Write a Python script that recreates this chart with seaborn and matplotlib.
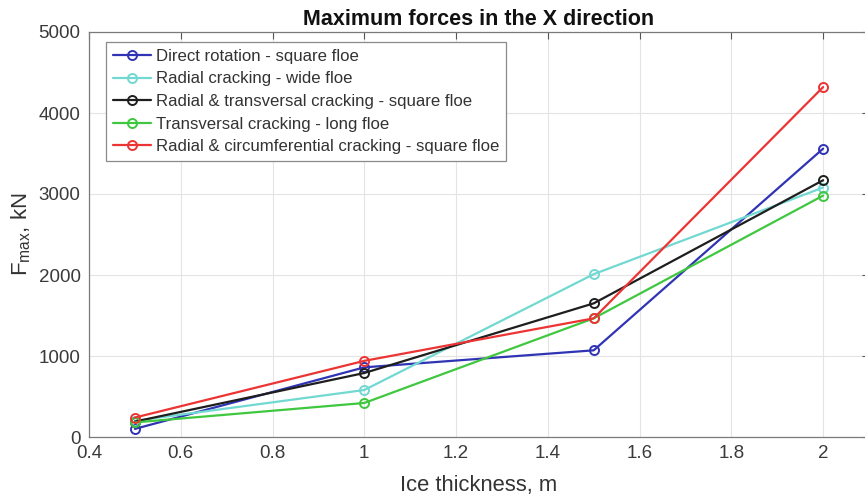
import numpy as np
import pandas as pd
import matplotlib
matplotlib.use("Agg")
import matplotlib.pyplot as plt
import seaborn as sns
from matplotlib.ticker import FuncFormatter

# Ice thickness (m) and maximum force in X (kN) for each fracture scenario
thickness = [0.5, 1.0, 1.5, 2.0]
direct_rotation_square = [100, 860, 1070, 3560]
radial_wide = [200, 580, 2010, 3080]
radial_transversal_square = [190, 790, 1650, 3170]
transversal_long = [180, 420, 1465, 2980]
radial_circumferential_square = [240, 940, 1465, 4320]

series_labels = [
    "Direct rotation - square floe",
    "Radial cracking - wide floe",
    "Radial & transversal cracking - square floe",
    "Transversal cracking - long floe",
    "Radial & circumferential cracking - square floe",
]
series_values = [
    direct_rotation_square,
    radial_wide,
    radial_transversal_square,
    transversal_long,
    radial_circumferential_square,
]
series_colors = ["#3034b4", "#72d8d2", "#1e1e1e", "#3fc83f", "#ec3434"]

x_ticks = [0.4, 0.6, 0.8, 1.0, 1.2, 1.4, 1.6, 1.8, 2.0]
y_ticks = [0, 1000, 2000, 3000, 4000, 5000]

sns.set_theme(style="whitegrid")
plt.rcParams["font.family"] = ["Liberation Sans", "DejaVu Sans"]
plt.rcParams["mathtext.fontset"] = "custom"
plt.rcParams["mathtext.rm"] = "Liberation Sans"
plt.rcParams["mathtext.it"] = "Liberation Sans"

fig = plt.figure(figsize=(8.65, 4.98), dpi=100)
ax = fig.add_axes([89 / 865, 1 - 437 / 498, 780 / 865, 405 / 498])

for label, vals, col in zip(series_labels, series_values, series_colors):
    df = pd.DataFrame({"thickness": thickness, "force": vals})
    sns.lineplot(
        data=df, x="thickness", y="force", ax=ax, color=col, label=label,
        marker="o", markersize=6.5, mfc="none", mec=col, mew=1.4, linewidth=1.6,
    )

ax.set_xlim(0.4, 2.1)
ax.set_ylim(0, 5000)
ax.set_xticks(x_ticks)
ax.set_yticks(y_ticks)
ax.xaxis.set_major_formatter(FuncFormatter(lambda v, p: f"{v:g}"))
ax.tick_params(axis="both", direction="in", length=5, width=0.8,
               colors="#555555", labelcolor="#3a3a3a", labelsize=13.5,
               top=True, right=True, pad=6)
ax.grid(True, color="#e4e4e4", linewidth=0.8)
ax.set_facecolor("white")
for side in ["left", "bottom", "top", "right"]:
    ax.spines[side].set_color("#7a7a7a")
    ax.spines[side].set_linewidth(0.9)

ax.set_title("Maximum forces in the X direction", fontsize=15.5,
             fontweight="bold", color="#111111", pad=5)
ax.set_xlabel("Ice thickness, m", fontsize=15.8, color="#333333", labelpad=9)
ax.set_ylabel(r"F$_{\mathregular{max}}$, kN", fontsize=16, color="#333333",
              labelpad=4)

leg = ax.legend(loc="upper left", bbox_to_anchor=(0.0218, 0.975),
                borderaxespad=0, fontsize=12.1, frameon=True, fancybox=False,
                edgecolor="#8a8a8a", framealpha=1, handlelength=2.3,
                handletextpad=0.25, labelspacing=0.45, borderpad=0.4,
                numpoints=1)
leg.get_frame().set_linewidth(0.9)
for t in leg.get_texts():
    t.set_color("#333333")

fig.savefig("out.png", dpi=100, facecolor="white")
